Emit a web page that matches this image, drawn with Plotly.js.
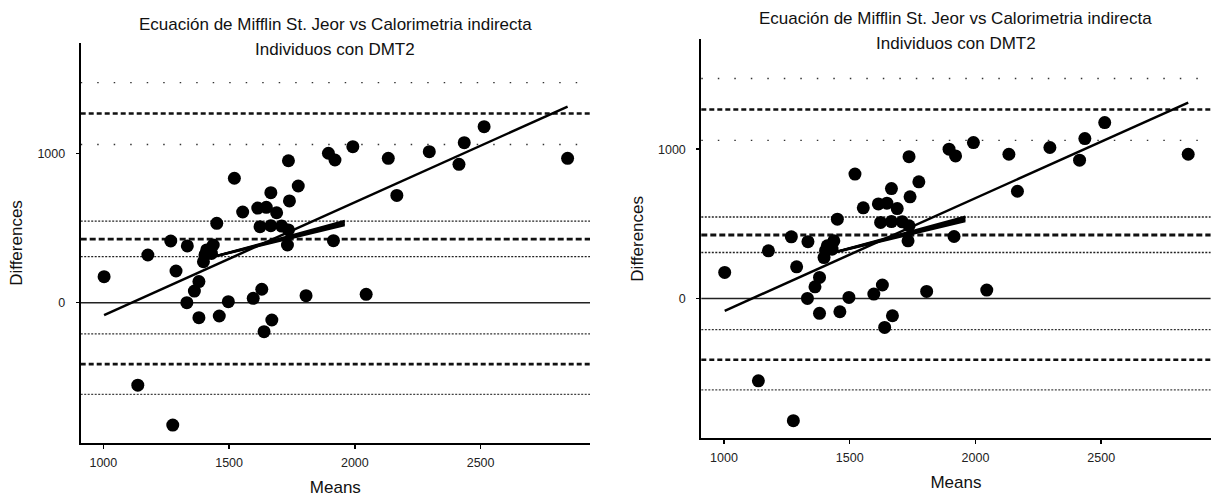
<!DOCTYPE html>
<html><head><meta charset="utf-8">
<script src="https://cdn.plot.ly/plotly-3.0.1.min.js"></script>
<style>html,body{margin:0;padding:0;background:#fff;}#chart{width:1211px;height:499px;}</style>
</head><body><div id="chart"></div>
<script>
// Bland-Altman data: means and differences
const means = [1003, 1137, 1177, 1268, 1276, 1289, 1332, 1334, 1362, 1380,
  1380, 1398, 1404, 1411, 1430, 1437, 1451, 1461, 1497, 1521,
  1554, 1596, 1614, 1623, 1630, 1639, 1648, 1666, 1666, 1670,
  1689, 1709, 1732, 1736, 1740, 1736, 1775, 1806, 1895, 1915,
  1921, 1992, 2045, 2133, 2167, 2296, 2414, 2435, 2514, 2846];
const diffs = [174, -552, 319, 413, -819, 212, 0, 380, 78, 141,
  -100, 274, 320, 353, 330, 386, 531, -89, 7, 833,
  607, 29, 633, 509, 90, -194, 638, 736, 515, -116,
  602, 513, 386, 950, 681, 487, 781, 47, 1000, 415,
  955, 1044, 56, 966, 718, 1011, 926, 1071, 1178, 966];

// reference lines
const meanDiff = 425;
const meanCI = [308, 546];
const loaUpper = 1266;
const loaUpperCI = [1059, 1473];
const loaLower = -411;
const loaLowerCI = [-613, -209];
const zeroLine = 0;

// regression of differences on means
const regIntercept = -842;
const regSlope = 0.757;

// fan of lines inside the mean band
const fanStart = [1420, 300];
const fanEndX = 1960;
const fanEndY = [548, 538, 528, 518];

const titleLine1 = 'Ecuación de Mifflin St. Jeor vs Calorimetria indirecta';
const titleLine2 = 'Individuos con DMT2';
const xTitle = 'Means';
const yTitle = 'Differences';
const xTicks = [1000, 1500, 2000, 2500];
const yTicks = [0, 1000];
const xRange = [910, 2935];
const yRange = [-937, 1736];

const FONT = 'Liberation Sans, Arial, sans-serif';

const panels = [
  {xa: 'x', ya: 'y', xd: [0.06664, 0.48720], yd: [0.11283, 0.91323], tx: 0.27696, ty1: 0.9499, ty2: 0.8998},
  {xa: 'x2', ya: 'y2', xd: [0.57911, 0.99967], yd: [0.12164, 0.92124], tx: 0.78943, ty1: 0.96333, ty2: 0.91323}
];

const traces = [];
const shapes = [];
const annotations = [];

const minX = Math.min(...means), maxX = Math.max(...means);

const hlines = [
  {y: loaUpperCI[1], dash: '1.5px,15px', w: 1.4, c: '#333'},
  {y: loaUpper, dash: '5px,3px', w: 2.4, c: '#111'},
  {y: loaUpperCI[0], dash: '1.5px,15px', w: 1.4, c: '#333'},
  {y: meanCI[1], dash: '2px,1.5px', w: 1.4, c: '#222'},
  {y: meanDiff, dash: '6px,3px', w: 2.8, c: '#111'},
  {y: meanCI[0], dash: '2px,1.5px', w: 1.4, c: '#222'},
  {y: zeroLine, dash: 'solid', w: 1.6, c: '#222'},
  {y: loaLowerCI[1], dash: '2px,1.5px', w: 1.3, c: '#333'},
  {y: loaLower, dash: '5px,3px', w: 2.6, c: '#111'},
  {y: loaLowerCI[0], dash: '2px,1.5px', w: 1.2, c: '#444'}
];

panels.forEach(p => {
  hlines.forEach(h => {
    shapes.push({type: 'line', xref: p.xa + ' domain', yref: p.ya, x0: 0, x1: 1, y0: h.y, y1: h.y,
      line: {color: h.c, width: h.w, dash: h.dash}, layer: 'below'});
  });
  fanEndY.forEach(ey => {
    traces.push({type: 'scatter', mode: 'lines', xaxis: p.xa, yaxis: p.ya,
      x: [fanStart[0], fanEndX], y: [fanStart[1], ey],
      line: {color: '#000', width: 2.2}, hoverinfo: 'skip', showlegend: false});
  });
  traces.push({type: 'scatter', mode: 'markers', xaxis: p.xa, yaxis: p.ya, x: means, y: diffs,
    marker: {color: '#000', size: 13, line: {width: 0}}, showlegend: false});
  traces.push({type: 'scatter', mode: 'lines', xaxis: p.xa, yaxis: p.ya,
    x: [minX, maxX], y: [regIntercept + regSlope * minX, regIntercept + regSlope * maxX],
    line: {color: '#000', width: 2.5}, showlegend: false});
  annotations.push({xref: 'paper', yref: 'paper', x: p.tx, y: p.ty1, xanchor: 'center', yanchor: 'middle',
    text: titleLine1, showarrow: false, font: {family: FONT, size: 17, color: '#111'}});
  annotations.push({xref: 'paper', yref: 'paper', x: p.tx, y: p.ty2, xanchor: 'center', yanchor: 'middle',
    text: titleLine2, showarrow: false, font: {family: FONT, size: 17, color: '#111'}});
});

function xaxis(domain, anchor) {
  return {domain: domain, anchor: anchor, range: xRange, showline: true, linecolor: '#000', linewidth: 2,
    ticks: 'outside', ticklen: 4, tickwidth: 1.5, tickcolor: '#000', tickvals: xTicks,
    tickfont: {family: FONT, size: 12.5, color: '#222'}, ticklabelstandoff: 3,
    showgrid: false, zeroline: false,
    title: {text: xTitle, font: {family: FONT, size: 17, color: '#111'}, standoff: 12}};
}
function yaxis(domain, anchor) {
  return {domain: domain, anchor: anchor, range: yRange, showline: true, linecolor: '#000', linewidth: 2,
    ticks: 'outside', ticklen: 3, tickwidth: 1.5, tickcolor: '#000', tickvals: yTicks,
    tickfont: {family: FONT, size: 12.5, color: '#222'}, ticklabelstandoff: 8,
    showgrid: false, zeroline: false,
    title: {text: yTitle, font: {family: FONT, size: 17, color: '#111'}, standoff: 10}};
}

const layout = {
  width: 1211, height: 499,
  margin: {l: 0, r: 0, t: 0, b: 0},
  paper_bgcolor: '#fff', plot_bgcolor: '#fff',
  showlegend: false,
  xaxis: xaxis(panels[0].xd, 'y'),
  yaxis: yaxis(panels[0].yd, 'x'),
  xaxis2: xaxis(panels[1].xd, 'y2'),
  yaxis2: yaxis(panels[1].yd, 'x2'),
  shapes: shapes,
  annotations: annotations
};

Plotly.newPlot('chart', traces, layout, {displayModeBar: false, staticPlot: true});
</script>
</body></html>
